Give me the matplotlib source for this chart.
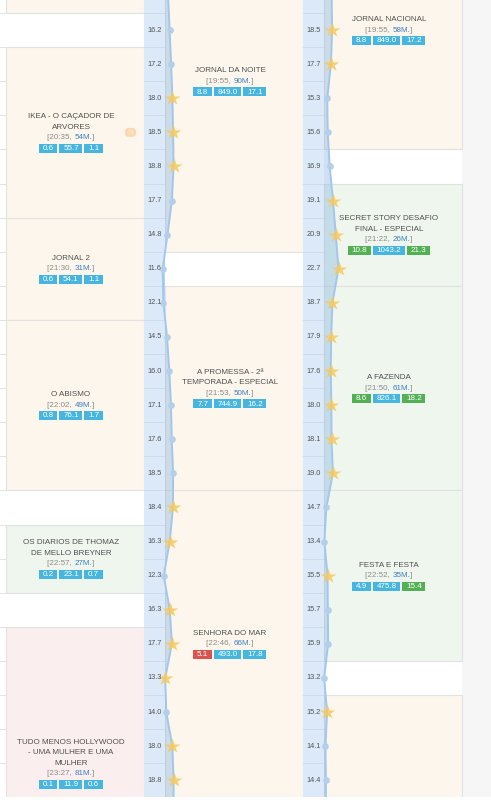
import matplotlib
matplotlib.use('Agg')
import matplotlib.pyplot as plt
from matplotlib.patches import Rectangle, FancyBboxPatch
from matplotlib.offsetbox import TextArea, HPacker, AnnotationBbox
import numpy as np

plt.rcParams['font.family'] = ['Liberation Sans', 'DejaVu Sans']

# share per 10-min slot, visible rows (top to bottom)
share_mid = [16.2, 17.2, 18.0, 18.5, 18.8, 17.7, 14.8, 11.6, 12.1, 14.5, 16.0, 17.1,
             17.6, 18.5, 18.4, 16.3, 12.3, 16.3, 17.7, 13.3, 14.0, 18.0, 18.8]
share_right = [18.5, 17.7, 15.3, 15.6, 16.9, 19.1, 20.9, 22.7, 18.7, 17.9, 17.6, 18.0,
               18.1, 19.0, 14.7, 13.4, 15.5, 15.7, 15.9, 13.2, 15.2, 14.1, 14.4]
# slot partly cut off at the top edge
share_above = [15.2, 18.2]

# programmes: column, first row, number of rows, title, start, minutes, badges, badge colours, bg
programs = [
    (0, -4, 4, None, None, None, None, None, 'peach'),
    (0, 1, 5, 'IKEA - O CAÇADOR DE\nARVORES', '20:35', '54', ['0.6', '55.7', '1.1'], 'bbb', 'peach'),
    (0, 6, 3, 'JORNAL 2', '21:30', '31', ['0.6', '54.1', '1.1'], 'bbb', 'peach'),
    (0, 9, 5, 'O ABISMO', '22:02', '49', ['0.8', '76.1', '1.7'], 'bbb', 'peach'),
    (0, 15, 2, 'OS DIARIOS DE THOMAZ\nDE MELLO BREYNER', '22:57', '27', ['0.2', '23.1', '0.7'], 'bbb', 'green'),
    (0, 18, 8, 'TUDO MENOS HOLLYWOOD\n- UMA MULHER E UMA\nMULHER', '23:27', '81', ['0.1', '11.9', '0.6'], 'bbb', 'pink'),
    (1, -3, 10, 'JORNAL DA NOITE', '19:55', '90', ['8.8', '849.0', '17.1'], 'bbb', 'peach'),
    (1, 8, 6, 'A PROMESSA - 2ª\nTEMPORADA - ESPECIAL', '21:53', '50', ['7.7', '744.9', '16.2'], 'bbb', 'peach'),
    (1, 14, 9, 'SENHORA DO MAR', '22:46', '66', ['5.1', '493.0', '17.8'], 'rbb', 'peach'),
    (2, -3, 7, 'JORNAL NACIONAL', '19:55', '58', ['8.8', '849.0', '17.2'], 'bbb', 'peach'),
    (2, 5, 3, 'SECRET STORY DESAFIO\nFINAL - ESPECIAL', '21:22', '26', ['10.8', '1043.2', '21.3'], 'gbg', 'green'),
    (2, 8, 6, 'A FAZENDA', '21:50', '61', ['8.6', '826.1', '18.2'], 'gbg', 'green'),
    (2, 14, 5, 'FESTA E FESTA', '22:52', '35', ['4.9', '475.8', '15.4'], 'bbg', 'green'),
    (2, 20, 9, None, None, None, None, None, 'peach'),
]

bg_colors = {'peach': '#fdf6ec', 'green': '#eef6ee', 'pink': '#fbeeee'}
badge_colors = {'b': '#46b5e0', 'g': '#54b054', 'r': '#d9534f'}

W, H = 491, 800
BOTTOM = 797
Y0, RH = 13.0, 34.1
COLW, COL0 = 159.0, -15.0
LABW = 21.0
K = 1.52
FS = 5.8

fig = plt.figure(figsize=(W / 100, H / 100), dpi=100)
fig.patch.set_facecolor('white')
ax = fig.add_axes([0, (H - BOTTOM) / H, 1, BOTTOM / H])
ax.set_xlim(0, W)
ax.set_ylim(BOTTOM, 0)
ax.axis('off')


def row_top(r):
    return Y0 + r * RH


def row_mid(r):
    return Y0 + (r + 0.5) * RH


# empty area right of the last channel
ax.add_patch(Rectangle((COL0 + 3 * COLW, 0), W, BOTTOM, fc='#f6f6f6', ec='none', zorder=0))

# row lines on the white parts
for r in range(-1, 24):
    ax.plot([0, COL0 + 3 * COLW], [row_top(r)] * 2, color='#e3e3e3', lw=0.7, zorder=0.5)

# programme blocks
for col, r0, n, title, start, dur, badges, bcols, bg in programs:
    left = COL0 + col * COLW + LABW
    ax.add_patch(Rectangle((left, row_top(r0)), COLW - LABW, n * RH,
                           fc=bg_colors[bg], ec='#e2e2e2', lw=0.8, zorder=1))
    if title is None:
        continue
    cx = COL0 + col * COLW + 86
    cy = row_top(r0) + n * RH / 2
    lines = title.split('\n')
    nl = len(lines) + 2
    ys = [cy + (i - (nl - 1) / 2) * 10.5 for i in range(nl)]
    for i, ln in enumerate(lines):
        ax.text(cx, ys[i], ln, ha='center', va='center', fontsize=FS, color='#505050', zorder=6)
    parts = [TextArea('[' + start + ', ', textprops=dict(color='#8c8c8c', fontsize=FS)),
             TextArea(dur + 'M.', textprops=dict(color='#3b80c4', fontsize=FS)),
             TextArea(']', textprops=dict(color='#8c8c8c', fontsize=FS))]
    pack = HPacker(children=parts, align='baseline', pad=0, sep=0)
    ab = AnnotationBbox(pack, (cx, ys[-2]), frameon=False, box_alignment=(0.5, 0.5), pad=0,
                        xycoords='data', zorder=6)
    ax.add_artist(ab)
    widths = [4.6 * len(b) + 4.6 for b in badges]
    gap = 2.0
    x = cx - (sum(widths) + gap * (len(widths) - 1)) / 2
    for b, w, c in zip(badges, widths, bcols):
        ax.add_patch(Rectangle((x, ys[-1] - 4.6), w, 9.2, fc=badge_colors[c], ec='none', zorder=6))
        ax.text(x + w / 2, ys[-1] + 0.3, b, ha='center', va='center', fontsize=FS,
                color='white', zorder=7)
        x += w + gap
    if title.startswith('IKEA'):
        ax.add_patch(FancyBboxPatch((COL0 + col * COLW + 140, cy - 4.5), 11, 9,
                                    boxstyle='round,pad=0,rounding_size=4',
                                    fc='#fbd7b2', ec='none', zorder=6))
        ax.text(COL0 + col * COLW + 145.5, cy, 'N', ha='center', va='center',
                fontsize=4.5, color='#fdf1e4', zorder=7)

# share columns with line
rows = np.arange(len(share_mid))
mid_arr = np.array(share_mid)
right_arr = np.array(share_right)
best = np.maximum(mid_arr, right_arr)
for col, vals, above in [(1, mid_arr, share_above[0]), (2, right_arr, share_above[1])]:
    x0 = COL0 + col * COLW
    ax.add_patch(Rectangle((x0, 0), LABW, BOTTOM, fc='#dce9f8', ec='none', zorder=2))
    for r in range(-1, 24):
        ax.plot([x0, x0 + LABW], [row_top(r)] * 2, color='#cddbeb', lw=0.7, zorder=2.1)
    ys = np.r_[row_mid(-1), row_mid(rows), BOTTOM]
    vs = np.r_[above, vals, vals[-1]]
    xs = x0 + 1 + K * vs
    ax.fill_betweenx(ys, x0 + LABW, xs, color='#86b3df', alpha=0.4, lw=0, zorder=2.5)
    ax.plot(xs, ys, color='#a2c7ec', lw=1.4, zorder=3, solid_capstyle='butt')
    px = x0 + 1 + K * vals
    py = row_mid(rows)
    star = vals >= best
    ax.plot(px[~star], py[~star], 'o', ms=4.8, color='#b3cfea', mec='none', zorder=4)
    ax.plot(px[star], py[star], '*', ms=11.5, color='#f8c95a', alpha=0.85, mec='none', zorder=4)
    for r, v in zip(rows, vals):
        ax.text(x0 + 3.5, row_mid(r), f'{v:.1f}', ha='left', va='center', fontsize=5.3,
                color='#555555', zorder=5)

fig.savefig('out.png', dpi=100, facecolor=fig.get_facecolor())
